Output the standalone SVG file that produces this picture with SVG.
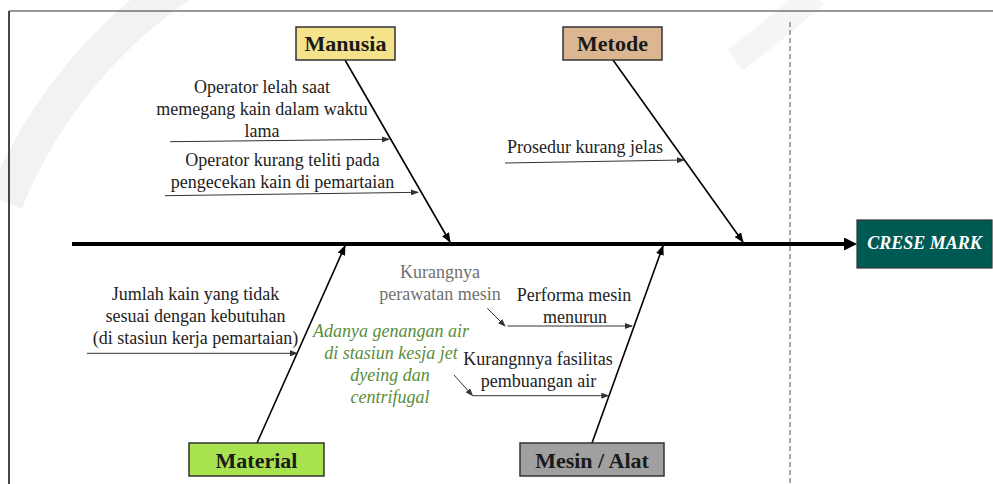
<svg xmlns="http://www.w3.org/2000/svg" width="993" height="484" viewBox="0 0 993 484">
<style>
.lbl{font-family:"Liberation Serif","Times New Roman",serif;font-weight:bold;font-size:22px;fill:#1a1a1a;text-anchor:middle}
.t{font-family:"Liberation Serif","Times New Roman",serif;font-size:18px;fill:#222;text-anchor:middle}
.grey{fill:#707070}
.green{fill:#5a8e3a;font-style:italic}
.box{stroke:#333;stroke-width:1.5}
.sub{stroke:#333;stroke-width:1;fill:none;marker-end:url(#ah)}
.br{stroke:#000;stroke-width:1.6;fill:none;marker-end:url(#ab)}
</style>
<defs>
<marker id="ah" markerWidth="8" markerHeight="6" refX="7" refY="3" orient="auto" markerUnits="userSpaceOnUse"><path d="M0,0 L8,3 L0,6 z" fill="#333"/></marker>
<marker id="ab" markerWidth="10" markerHeight="8" refX="9" refY="4" orient="auto" markerUnits="userSpaceOnUse"><path d="M0,0 L10,4 L0,8 z" fill="#000"/></marker>
<marker id="as" markerWidth="14" markerHeight="13" refX="1" refY="6.5" orient="auto" markerUnits="userSpaceOnUse"><path d="M0,0 L13,6.5 L0,13 z" fill="#000"/></marker>
</defs>
<rect width="993" height="484" fill="#fff"/>
<g id="watermark">
<path d="M 5 202 A 481 481 0 0 1 200 -28" fill="none" stroke="#000" stroke-opacity="0.05" stroke-width="36"/>
<path d="M 735 60 Q 775 30 815 -5" fill="none" stroke="#000" stroke-opacity="0.04" stroke-width="26"/>
</g>
<g id="frame">
<line x1="9" y1="11" x2="993" y2="11" stroke="#333" stroke-width="1.2"/>
<line x1="9" y1="11" x2="9" y2="484" stroke="#333" stroke-width="1.8"/>
<line x1="790" y1="22" x2="790" y2="484" stroke="#555" stroke-width="1" stroke-dasharray="5,3"/>
</g>
<g id="connectors">
<line x1="72" y1="244" x2="845" y2="244" stroke="#000" stroke-width="4" marker-end="url(#as)"/>
<line class="br" x1="345" y1="60" x2="450" y2="242"/>
<line class="br" x1="613" y1="60" x2="743" y2="242"/>
<line class="br" x1="257" y1="443" x2="345" y2="246"/>
<line class="br" x1="592" y1="443" x2="663" y2="246"/>
<line class="sub" x1="170" y1="141.7" x2="389" y2="139.3"/>
<line class="sub" x1="165" y1="195.7" x2="418" y2="192.3"/>
<line class="sub" x1="505" y1="163" x2="684" y2="160"/>
<line class="sub" x1="87" y1="353.3" x2="297" y2="353.3"/>
<line class="sub" x1="487.3" y1="308.3" x2="505" y2="326"/>
<line class="sub" x1="507.5" y1="326" x2="632" y2="326"/>
<line class="sub" x1="454" y1="375" x2="472.5" y2="395.5"/>
<line class="sub" x1="472.7" y1="395.7" x2="608.3" y2="395.7"/>
</g>
<g id="manusia">
<rect class="box" x="296" y="27" width="99" height="33" fill="#f4e38b"/>
<text class="lbl" x="345.5" y="51">Manusia</text>
</g>
<g id="metode">
<rect class="box" x="563" y="27" width="99" height="33" fill="#dbb690"/>
<text class="lbl" x="612.5" y="51">Metode</text>
</g>
<g id="material">
<rect class="box" x="189" y="443" width="135" height="33" fill="#a8e24e"/>
<text class="lbl" x="256.5" y="468">Material</text>
</g>
<g id="mesin-alat">
<rect class="box" x="520" y="443" width="144" height="33" fill="#a0a0a0"/>
<text class="lbl" x="592" y="468">Mesin / Alat</text>
</g>
<g id="crese-mark">
<rect x="857" y="220" width="135" height="48" fill="#005a54" stroke="#333" stroke-width="1.2"/>
<text x="924.5" y="249" font-family="Liberation Serif, Times New Roman, serif" font-weight="bold" font-style="italic" font-size="18" fill="#fff" text-anchor="middle">CRESE MARK</text>
</g>
<g id="cause-operator-lelah">
<text class="t" x="262" y="93">Operator lelah saat</text>
<text class="t" x="262" y="115">memegang kain dalam waktu</text>
<text class="t" x="262" y="137">lama</text>
</g>
<g id="cause-operator-teliti">
<text class="t" x="282.5" y="166">Operator kurang teliti pada</text>
<text class="t" x="282.5" y="188">pengecekan kain di pemartaian</text>
</g>
<g id="cause-prosedur">
<text class="t" x="507" y="153" style="text-anchor:start">Prosedur kurang jelas</text>
</g>
<g id="cause-jumlah-kain">
<text class="t" x="195.5" y="300">Jumlah kain yang tidak</text>
<text class="t" x="195.5" y="322">sesuai dengan kebutuhan</text>
<text class="t" x="195.5" y="344">(di stasiun kerja pemartaian)</text>
</g>
<g id="cause-genangan">
<text class="t green" x="391" y="337">Adanya genangan air</text>
<text class="t green" x="391" y="359">di stasiun kesja jet</text>
<text class="t green" x="390" y="381">dyeing dan</text>
<text class="t green" x="390" y="403">centrifugal</text>
</g>
<g id="cause-perawatan">
<text class="t grey" x="440" y="278">Kurangnya</text>
<text class="t grey" x="440" y="300">perawatan mesin</text>
</g>
<g id="cause-performa">
<text class="t" x="574" y="301">Performa mesin</text>
<text class="t" x="575" y="323">menurun</text>
</g>
<g id="cause-fasilitas">
<text class="t" x="538" y="365">Kurangnnya fasilitas</text>
<text class="t" x="538.5" y="387">pembuangan air</text>
</g>
</svg>
